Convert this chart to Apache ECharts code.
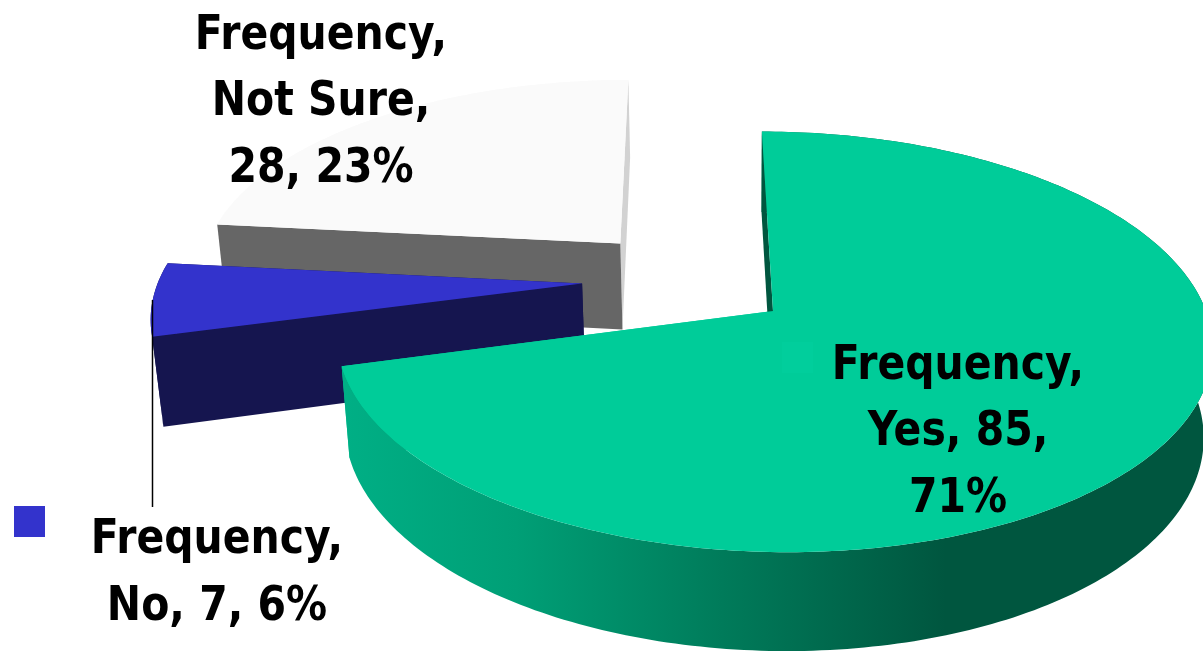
<!DOCTYPE html>
<html>
<head>
<meta charset="utf-8">
<style>html,body{margin:0;padding:0;background:#fff;overflow:hidden}#c{width:1203px;height:651px}</style>
<script src="https://cdn.jsdelivr.net/npm/echarts@6/dist/echarts.min.js"></script>
</head>
<body>
<div id="c"></div>
<script>
// ---- data ----
var seriesName = 'Frequency';
var categories = ['Yes', 'No', 'Not Sure'];
var values = [85, 7, 28];
var labelBreaks = [
  ['{s},', '{c}, {v},', '{p}%'],
  ['{s},', '{c}, {v}, {p}%'],
  ['{s},', '{c},', '{v}, {p}%']
];

// ---- colours ----
var topColors = ['#00CC99', '#3333CC', '#FAFAFA'];
var startFaceColors = ['#00563F', '#15154F', '#666666'];
var endFaceColors = ['#00CC99', '#15154F', '#D2D2D2'];
var keyColors = ['#01CE9C', '#3333CC', '#FAFAFA'];

// ---- 3D layout: explosion offset of each slice in world units, perspective camera ----
var explodeX = [87, -106, -69];
var explodeY = [0, 59, 149];
var labelX = [958, 217, 321];
var labelY = [433, 574, 103];
var drawOrder = [3, 2, 1];   // stacking of the slices
var endFaceBehindWall = [true, true, false];
var R = 433, D = 2950;
var VX = 686, VY = -1091, BASE = 1402;   // horizon vanishing point
var NX = 740, NY = 5040, DEPTH = 0.0188; // downward vanishing point

function project(X, Y, bottom) {
  var s = 1 / (1 + Y / D);
  var x = VX + X * s, y = VY + BASE * s;
  if (bottom) {
    var k = DEPTH * s;
    x += (NX - x) * k;
    y += (NY - y) * k;
  }
  return [x, y];
}
var total = values.reduce(function (a, b) { return a + b; }, 0);
function rimPoint(i, deg, bottom) {
  var a = deg * Math.PI / 180;
  return project(explodeX[i] + R * Math.sin(a), explodeY[i] + R * Math.cos(a), bottom);
}
function arc(i, a0, a1, bottom) {
  var pts = [], n = Math.max(2, Math.ceil(Math.abs(a1 - a0)));
  for (var k = 0; k <= n; k++) pts.push(rimPoint(i, a0 + (a1 - a0) * k / n, bottom));
  return pts;
}
function fmt(t, i) {
  return t.replace('{s}', seriesName).replace('{c}', categories[i]).replace('{v}', values[i])
          .replace('{p}', Math.round(values[i] / total * 100));
}

var rimFill = [
  new echarts.graphic.LinearGradient(345, 0, 1203, 0, [
    { offset: 0, color: '#00AF85' },
    { offset: 0.2, color: '#009F76' },
    { offset: 0.44, color: '#007B5A' },
    { offset: 0.7, color: '#00563F' },
    { offset: 1, color: '#00563F' }
  ], true),
  '#15154F', '#FAFAFA'
];

function renderSlice(params, api) {
  var i = params.dataIndex;
  var start = 0;
  for (var j = 0; j < i; j++) start += values[j];
  var a0 = start / total * 360, a1 = (start + api.value(0)) / total * 360;
  var z = drawOrder[i] * 10;
  var apex = project(explodeX[i], explodeY[i], false);
  var apexB = project(explodeX[i], explodeY[i], true);
  var children = [];
  // two cut faces and the outer wall
  children.push({ type: 'polygon', z2: endFaceBehindWall[i] ? z : z + 2, shape: { points: [rimPoint(i, a1, false), apex, apexB, rimPoint(i, a1, true)] }, style: { fill: endFaceColors[i] } });
  children.push({ type: 'polygon', z2: z + 1, shape: { points: arc(i, a0, a1, false).concat(arc(i, a1, a0, true)) }, style: { fill: rimFill[i] } });
  children.push({ type: 'polygon', z2: z + 3, shape: { points: [rimPoint(i, a0, false), apex, apexB, rimPoint(i, a0, true)] }, style: { fill: startFaceColors[i] } });
  // top face
  children.push({ type: 'polygon', z2: z + 4, shape: { points: [apex].concat(arc(i, a0, a1, false)) }, style: { fill: topColors[i] } });
  // data label
  children.push({
    type: 'text', z2: 100,
    x: labelX[i], y: labelY[i], scaleY: 1.17,
    style: {
      text: labelBreaks[i].map(function (t) { return fmt(t, i); }).join('\n'),
      x: 0, y: 0, align: 'center', verticalAlign: 'middle',
      fontFamily: '"DejaVu Sans", sans-serif', fontWeight: 'bold', fontSize: 41,
      lineHeight: 56.8, fill: '#000000'
    }
  });
  return { type: 'group', children: children };
}

var chart = echarts.init(document.getElementById('c'), null, { renderer: 'canvas', width: 1203, height: 651 });
chart.setOption({
  backgroundColor: '#ffffff',
  animation: false,
  tooltip: { show: false },
  series: [{
    type: 'custom',
    name: seriesName,
    coordinateSystem: 'none',
    silent: true,
    clip: false,
    data: values.map(function (v, i) { return { name: categories[i], value: [v] }; }),
    renderItem: renderSlice
  }],
  graphic: [
    { type: 'line', z: 10, silent: true, shape: { x1: 152.5, y1: 300, x2: 152.5, y2: 507 }, style: { stroke: '#000000', lineWidth: 1.5 } },
    { type: 'rect', z: 10, silent: true, shape: { x: 14, y: 506, width: 31, height: 31 }, style: { fill: keyColors[1] } },
    { type: 'rect', z: 3, silent: true, shape: { x: 782, y: 342, width: 31, height: 31 }, style: { fill: keyColors[0] } }
  ]
});
</script>
</body>
</html>
